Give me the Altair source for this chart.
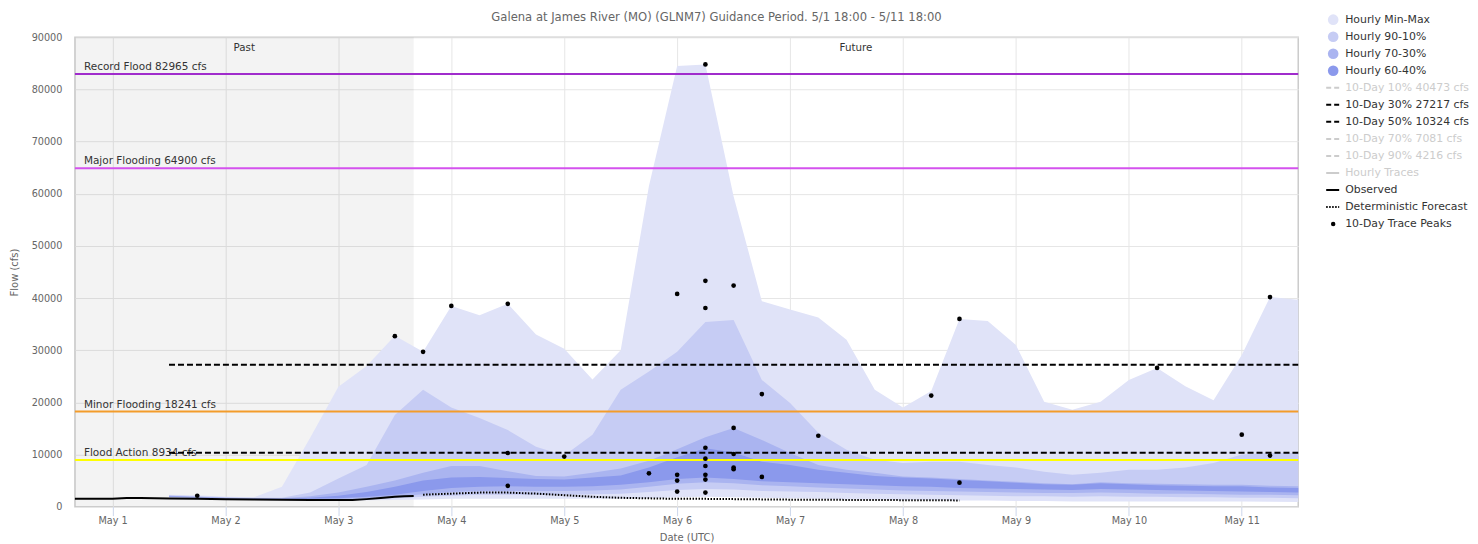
import altair as alt
import pandas as pd

FONT = "DejaVu Sans"
TITLE = "Galena at James River (MO) (GLNM7) Guidance Period. 5/1 18:00 - 5/11 18:00"

# ---------------- data ----------------
DOMAIN_START = "2025-04-30T16:00:00Z"
DOMAIN_END = "2025-05-11T12:00:00Z"
PAST_END = "2025-05-03T16:00:00Z"

# 6-hourly ensemble times, May 1 12:00 UTC .. May 11 12:00 UTC
BAND_TIMES = list(pd.date_range("2025-05-01 12:00", periods=41, freq="6h").strftime("%Y-%m-%dT%H:%M:%SZ"))

MM_HI = [2300, 2200, 1900, 1800, 3800, 13200, 23000, 27000, 32800, 29700,
         38500, 36700, 38900, 33000, 30300, 24400, 30000, 61500, 84500, 84800,
         59500, 39400, 37800, 36300, 32000, 22400, 19000, 22200, 36000, 35600,
         31000, 20100, 18600, 20100, 24300, 26600, 23100, 20400, 29100, 40200, 39700]
P90_HI = [2200, 2000, 1800, 1700, 1700, 2700, 5400, 8000, 17600, 22400,
          19000, 17000, 14700, 11500, 9800, 13800, 22400, 25900, 29700, 35400,
          35800, 24300, 19900, 14200, 10900, 9000, 8400, 8600, 8600, 8000,
          7500, 6700, 6100, 6500, 7100, 7100, 7500, 8400, 10000, 10300, 10300]
P70_HI = [2100, 1900, 1700, 1600, 1600, 2000, 2700, 3800, 5000, 6500,
          7800, 7800, 6800, 5900, 5800, 6500, 7300, 8800, 11000, 13300,
          15100, 12800, 10300, 8000, 7100, 6500, 5800, 5600, 5300, 5000,
          4800, 4500, 4300, 4700, 4500, 4400, 4300, 4200, 4200, 4000, 3900]
P60_HI = [2000, 1800, 1650, 1550, 1500, 1700, 2100, 2800, 3800, 5000,
          5600, 5700, 5500, 5300, 5200, 5600, 6000, 7500, 9500, 11200,
          10400, 8600, 8000, 7100, 6500, 5900, 5600, 5400, 5100, 4900,
          4600, 4300, 4200, 4500, 4300, 4100, 4000, 3900, 3900, 3700, 3600]
P60_LO = [1900, 1750, 1600, 1500, 1450, 1500, 1600, 1900, 2300, 3000,
          3600, 3800, 3900, 3800, 3800, 3900, 4200, 4700, 5300, 5600,
          5300, 4900, 4700, 4500, 4300, 4100, 3900, 3800, 3600, 3500,
          3400, 3300, 3200, 3400, 3300, 3200, 3100, 3000, 2900, 2800, 2700]
P70_LO = [1850, 1700, 1550, 1450, 1400, 1400, 1450, 1600, 1900, 2400,
          2800, 3000, 3000, 3000, 3000, 3100, 3300, 3800, 4400, 4700,
          4500, 4100, 3900, 3700, 3500, 3300, 3100, 3000, 2900, 2800,
          2700, 2600, 2600, 2700, 2600, 2500, 2500, 2400, 2300, 2300, 2200]
P90_LO = [1800, 1650, 1500, 1400, 1350, 1300, 1350, 1400, 1600, 1900,
          2100, 2300, 2300, 2300, 2300, 2400, 2500, 2800, 3200, 3400,
          3300, 3000, 2900, 2800, 2600, 2500, 2400, 2300, 2200, 2100,
          2000, 2000, 1900, 2000, 1900, 1900, 1800, 1800, 1700, 1700, 1600]
MM_LO = [1700, 1550, 1400, 1300, 1250, 1200, 1200, 1250, 1300, 1400,
         1500, 1500, 1500, 1500, 1500, 1500, 1500, 1600, 1800, 1900,
         1800, 1700, 1600, 1500, 1400, 1400, 1300, 1300, 1200, 1200,
         1100, 1100, 1000, 1000, 1000, 1000, 1000, 1000, 1000, 950, 900]

OBS_TIMES = ["2025-04-30T16:00:00Z", "2025-04-30T20:00:00Z", "2025-05-01T00:00:00Z",
             "2025-05-01T03:00:00Z", "2025-05-01T06:00:00Z", "2025-05-01T09:00:00Z",
             "2025-05-01T12:00:00Z", "2025-05-01T18:00:00Z", "2025-05-02T00:00:00Z",
             "2025-05-02T06:00:00Z", "2025-05-02T12:00:00Z", "2025-05-02T18:00:00Z",
             "2025-05-03T00:00:00Z", "2025-05-03T03:00:00Z", "2025-05-03T06:00:00Z",
             "2025-05-03T09:00:00Z", "2025-05-03T12:00:00Z", "2025-05-03T14:00:00Z",
             "2025-05-03T16:00:00Z"]
OBS_FLOW = [1500, 1500, 1520, 1650, 1650, 1600, 1550, 1500, 1420, 1380, 1330, 1300,
            1280, 1300, 1450, 1650, 1900, 2000, 2050]

DET_TIMES = BAND_TIMES[9:29]
DET_FLOW = [2300, 2500, 2700, 2700, 2500, 2200, 1900, 1700, 1600, 1500,
            1500, 1450, 1400, 1350, 1350, 1300, 1300, 1250, 1250, 1200]

PEAK_TIMES = ["2025-05-01T18:00:00Z", "2025-05-03T12:00:00Z", "2025-05-03T18:00:00Z",
              "2025-05-04T00:00:00Z", "2025-05-04T12:00:00Z", "2025-05-04T12:00:00Z",
              "2025-05-04T12:00:00Z", "2025-05-05T00:00:00Z", "2025-05-05T18:00:00Z",
              "2025-05-06T00:00:00Z", "2025-05-06T00:00:00Z", "2025-05-06T00:00:00Z",
              "2025-05-06T00:00:00Z", "2025-05-06T06:00:00Z", "2025-05-06T06:00:00Z",
              "2025-05-06T06:00:00Z", "2025-05-06T06:00:00Z", "2025-05-06T06:00:00Z",
              "2025-05-06T06:00:00Z", "2025-05-06T06:00:00Z", "2025-05-06T06:00:00Z",
              "2025-05-06T06:00:00Z", "2025-05-06T12:00:00Z", "2025-05-06T12:00:00Z",
              "2025-05-06T12:00:00Z", "2025-05-06T12:00:00Z", "2025-05-06T12:00:00Z",
              "2025-05-06T18:00:00Z", "2025-05-06T18:00:00Z", "2025-05-07T06:00:00Z",
              "2025-05-08T06:00:00Z", "2025-05-08T12:00:00Z", "2025-05-08T12:00:00Z",
              "2025-05-10T06:00:00Z", "2025-05-11T00:00:00Z", "2025-05-11T06:00:00Z",
              "2025-05-11T06:00:00Z"]
PEAK_FLOW = [2100, 32700, 29700, 38500, 38900, 10300, 4000, 9600, 6400,
             40800, 6100, 5000, 2900, 84800, 43300, 38100, 11300, 9200, 7800,
             6100, 5200, 2700, 42400, 15100, 10100, 7500, 7200, 21600, 5700,
             13600, 21300, 36000, 4600, 26600, 13800, 40200, 9800]

THRESH_NAMES = ["Record Flood", "Major Flooding", "Minor Flooding", "Flood Action"]
THRESH_VALUES = [82965, 64900, 18241, 8934]

TEN_DAY_PCT = ["10%", "30%", "50%", "70%", "90%"]
TEN_DAY_VALUES = [40473, 27217, 10324, 7081, 4216]
TEN_DAY_SHOWN = [False, True, True, False, False]

BAND_NAMES = ["Hourly Min-Max", "Hourly 90-10%", "Hourly 70-30%", "Hourly 60-40%"]
OTHER_LINE_NAMES = ["Hourly Traces", "Observed", "Deterministic Forecast"]
PEAK_NAME = "10-Day Trace Peaks"

# ---------------- styles ----------------
BAND_COLORS = ["#e0e3f8", "#c6ccf4", "#aab4f0", "#8b99ec"]
THRESH_COLORS = ["#a02ccc", "#d452ee", "#f39c2a", "#ffff00"]
TEXT_DARK = "#333333"
TEXT_HIDDEN = "#cccccc"
AXIS_GRAY = "#666666"
GRID = "#e6e6e6"

X_SCALE = alt.Scale(type="utc", domain=[
    alt.DateTime(year=2025, month=4, date=30, hours=16, utc=True),
    alt.DateTime(year=2025, month=5, date=11, hours=12, utc=True)])
Y_SCALE = alt.Scale(domain=[0, 90000], nice=False, zero=True)

X_AXIS = alt.Axis(format="%b %-d", tickCount={"interval": "day", "step": 1},
                  labelColor=AXIS_GRAY, labelFont=FONT, labelFontSize=9.7,
                  tickColor="#ccd6eb", tickSize=9, labelPadding=0, domain=False,
                  gridColor=GRID, titleColor=AXIS_GRAY, titleFont=FONT,
                  titleFontSize=10, titleFontWeight="normal", titlePadding=7,
                  labelFlush=False, labelOverlap=False)
Y_AXIS = alt.Axis(values=list(range(0, 90001, 10000)), format="d",
                  labelColor=AXIS_GRAY, labelFont=FONT, labelFontSize=9.7,
                  ticks=False, tickSize=0, domain=False, gridColor=GRID,
                  labelPadding=13, titlePadding=12, titleColor=AXIS_GRAY,
                  titleFont=FONT, titleFontSize=10, titleFontWeight="normal")


def X(field):
    return alt.X(f"{field}:T", scale=X_SCALE, axis=X_AXIS, title="Date (UTC)")


def Y(field):
    return alt.Y(f"{field}:Q", scale=Y_SCALE, axis=Y_AXIS, title="Flow (cfs)")


# ---------------- tables ----------------
bands = pd.DataFrame({"t": BAND_TIMES, "mm_lo": MM_LO, "mm_hi": MM_HI,
                      "p90_lo": P90_LO, "p90_hi": P90_HI, "p70_lo": P70_LO,
                      "p70_hi": P70_HI, "p60_lo": P60_LO, "p60_hi": P60_HI})
band_pairs = [("mm_lo", "mm_hi"), ("p90_lo", "p90_hi"), ("p70_lo", "p70_hi"), ("p60_lo", "p60_hi")]

obs = pd.DataFrame({"t": OBS_TIMES, "flow": OBS_FLOW})
det = pd.DataFrame({"t": DET_TIMES, "flow": DET_FLOW})
peaks = pd.DataFrame({"t": PEAK_TIMES, "flow": PEAK_FLOW})

thresh = pd.DataFrame({"name": THRESH_NAMES, "value": THRESH_VALUES})
thresh["label"] = [f"{n} {v} cfs" for n, v in zip(THRESH_NAMES, THRESH_VALUES)]
thresh["t0"] = DOMAIN_START

ten_names = [f"10-Day {p} {v} cfs" for p, v in zip(TEN_DAY_PCT, TEN_DAY_VALUES)]
ten = pd.DataFrame({"name": ten_names, "value": TEN_DAY_VALUES, "shown": TEN_DAY_SHOWN})
ten = ten[ten["shown"]].copy()
ten["start"] = BAND_TIMES[0]
ten["end"] = BAND_TIMES[-1]

past = pd.DataFrame({"start": [DOMAIN_START], "end": [PAST_END]})

t_start = pd.Timestamp(DOMAIN_START)
t_past = pd.Timestamp(PAST_END)
t_end = pd.Timestamp(DOMAIN_END)
period_labels = pd.DataFrame({
    "label": ["Past", "Future"],
    "t": [(t_start + (t_past - t_start) / 2).strftime("%Y-%m-%dT%H:%M:%SZ"),
          (t_past + (t_end - t_past) / 2).strftime("%Y-%m-%dT%H:%M:%SZ")],
    "top": [90000, 90000]})

# ---------------- main chart layers ----------------
past_rect = alt.Chart(past).mark_rect(color="#000000", opacity=0.047).encode(
    x=X("start"), x2="end")

band_layers = [
    alt.Chart(bands).mark_area(color=c, opacity=1, interpolate="linear").encode(
        x=X("t"), y=Y(lo), y2=hi)
    for (lo, hi), c in zip(band_pairs, BAND_COLORS)
]

thresh_rules = alt.Chart(thresh).mark_rule(strokeWidth=2).encode(
    y=Y("value"),
    color=alt.Color("name:N", scale=alt.Scale(domain=THRESH_NAMES, range=THRESH_COLORS), legend=None))

thresh_text = alt.Chart(thresh).mark_text(
    align="left", baseline="bottom", dx=9, dy=-2, font=FONT, fontSize=10.5, color=TEXT_DARK
).encode(x=X("t0"), y=Y("value"), text="label:N")

period_text = alt.Chart(period_labels).mark_text(
    align="center", baseline="top", dy=5.5, font=FONT, fontSize=10.3, color=TEXT_DARK
).encode(x=X("t"), y=Y("top"), text="label:N")

ten_rules = alt.Chart(ten).mark_rule(color="black", strokeWidth=2, strokeDash=[6, 3]).encode(
    x=X("start"), x2="end", y=Y("value"))

obs_line = alt.Chart(obs).mark_line(color="black", strokeWidth=2).encode(x=X("t"), y=Y("flow"))
det_line = alt.Chart(det).mark_line(color="black", strokeWidth=2, strokeDash=[1.5, 1.5]).encode(
    x=X("t"), y=Y("flow"))
peak_pts = alt.Chart(peaks).mark_circle(color="black", size=22, opacity=1).encode(
    x=X("t"), y=Y("flow"))

main = alt.layer(
    past_rect, *band_layers, thresh_rules, thresh_text, period_text, ten_rules,
    obs_line, det_line, peak_pts
).properties(
    width=1225, height=470,
    title=alt.Title(TITLE, font=FONT, fontSize=11.6, fontWeight="normal", color=AXIS_GRAY,
                    anchor="middle", dx=30, offset=9),
    view=alt.ViewBackground(stroke="#cccccc", strokeWidth=1.5),
)

# ---------------- legend panel ----------------
LEGEND_NAMES = BAND_NAMES + ten_names + OTHER_LINE_NAMES + [PEAK_NAME]
LEGEND_KINDS = ["area"] * 4 + ["line"] * 5 + ["line"] * 3 + ["peak"]
LINE_NAMES = ten_names + OTHER_LINE_NAMES
LINE_SYMBOL_COLORS = ["#000000" if s else TEXT_HIDDEN for s in TEN_DAY_SHOWN] + [TEXT_HIDDEN, "#000000", "#000000"]
LINE_DASHES = [[5, 3]] * 5 + [[1, 0], [1, 0], [1.5, 1.5]]
LINE_WIDTHS = [2] * 5 + [1, 2, 2]
LABEL_COLORS = ([TEXT_DARK] * 4 + [TEXT_DARK if s else TEXT_HIDDEN for s in TEN_DAY_SHOWN]
                + [TEXT_HIDDEN, TEXT_DARK, TEXT_DARK, TEXT_DARK])

leg = pd.DataFrame({"name": LEGEND_NAMES, "kind": LEGEND_KINDS})
Y_LEG = alt.Y("name:N", sort=LEGEND_NAMES, axis=None,
              scale=alt.Scale(type="point", domain=LEGEND_NAMES, range=[-17.7, 187], padding=0))

leg_base = alt.Chart(leg)
leg_area = leg_base.transform_filter(alt.datum.kind == "area").mark_point(
    filled=True, shape="circle", size=113, opacity=1, strokeWidth=0
).encode(y=Y_LEG, x=alt.value(10),
         fill=alt.Fill("name:N", scale=alt.Scale(domain=BAND_NAMES, range=BAND_COLORS), legend=None))
leg_line = leg_base.transform_filter(alt.datum.kind == "line").mark_rule().encode(
    y=Y_LEG, x=alt.value(3), x2=alt.value(16),
    stroke=alt.Stroke("name:N", scale=alt.Scale(domain=LINE_NAMES, range=LINE_SYMBOL_COLORS), legend=None),
    strokeDash=alt.StrokeDash("name:N", scale=alt.Scale(domain=LINE_NAMES, range=LINE_DASHES), legend=None),
    strokeWidth=alt.StrokeWidth("name:N", scale=alt.Scale(domain=LINE_NAMES, range=LINE_WIDTHS), legend=None))
leg_peak = leg_base.transform_filter(alt.datum.kind == "peak").mark_circle(
    color="black", size=20, opacity=1).encode(y=Y_LEG, x=alt.value(10))
leg_text = leg_base.mark_text(align="left", baseline="middle", font=FONT, fontSize=10.9).encode(
    y=Y_LEG, x=alt.value(22), text="name:N",
    color=alt.Color("name:N", scale=alt.Scale(domain=LEGEND_NAMES, range=LABEL_COLORS), legend=None))

legend_panel = alt.layer(leg_area, leg_line, leg_peak, leg_text).properties(
    width=145, height=200, view=alt.ViewBackground(stroke="transparent"))

chart = alt.hconcat(main, legend_panel, spacing=22).resolve_scale(
    color="independent", fill="independent", stroke="independent",
    strokeDash="independent", strokeWidth="independent", y="independent", x="independent"
).properties(
    padding={"left": 0, "top": 2, "right": 0, "bottom": 0}
).configure(font=FONT).configure_view(stroke="transparent")

chart.save("out.html", embed_options={"renderer": "svg", "actions": False})
